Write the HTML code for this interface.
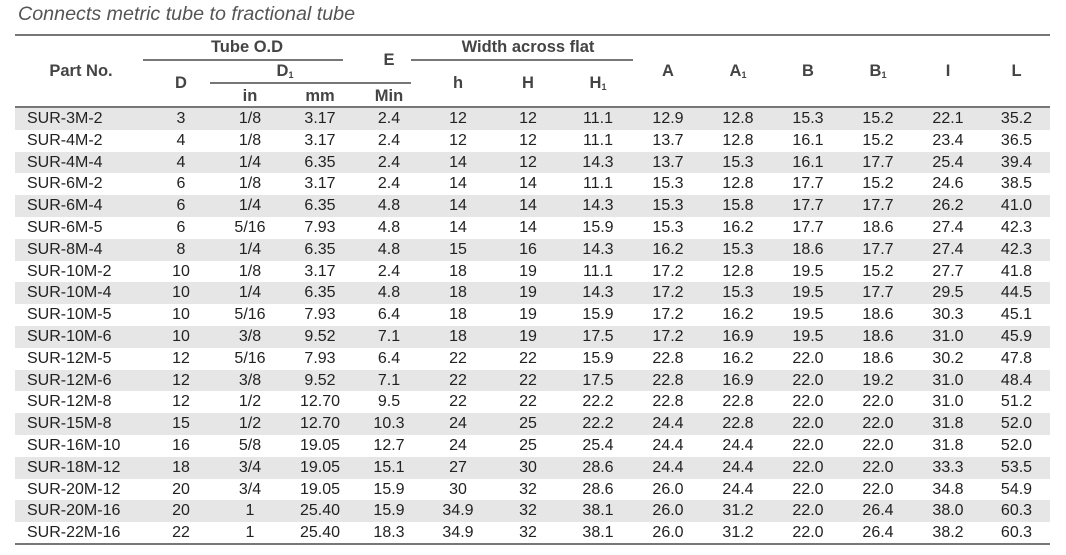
<!DOCTYPE html>
<html><head><meta charset="utf-8"><style>
body{margin:0;width:1066px;height:555px;background:#fff;font-family:"Liberation Sans",Arial,sans-serif;position:relative;overflow:hidden}
.a{position:absolute}
.t{left:18px;top:3px;font-style:italic;font-size:19.7px;color:#555}
.l{background:#777;height:2px}
.h{font-weight:bold;color:#444;font-size:16.5px;text-align:center}
sub{font-size:9px;vertical-align:-2px}
table{position:absolute;left:15px;top:108px;border-collapse:collapse;width:1035px;table-layout:fixed}
td{height:21.8px;padding:0;font-size:16px;color:#222;text-align:center;line-height:21.8px}
td:first-child{text-align:left;padding-left:12px}
tr:nth-child(odd) td{background:#e6e6e6}
</style></head><body>
<div class="a t">Connects metric tube to fractional tube</div>
<div class="a l" style="left:15px;top:34px;width:1035px"></div>
<div class="a l" style="left:143px;top:59px;width:200px;height:1.5px"></div>
<div class="a l" style="left:411px;top:59px;width:222px;height:1.5px"></div>
<div class="a l" style="left:210px;top:82px;width:201px;height:1.5px"></div>
<div class="a l" style="left:15px;top:106px;width:1035px"></div>
<div class="a h" style="left:15px;width:132px;top:62px">Part No.</div>
<div class="a h" style="left:147px;width:200px;top:38px">Tube O.D</div>
<div class="a h" style="left:355px;width:68px;top:51px">E</div>
<div class="a h" style="left:423px;width:210px;top:38px">Width across flat</div>
<div class="a h" style="left:147px;width:68px;top:74px">D</div>
<div class="a h" style="left:215px;width:140px;top:62px">D<sub>1</sub></div>
<div class="a h" style="left:215px;width:70px;top:87px">in</div>
<div class="a h" style="left:285px;width:70px;top:87px">mm</div>
<div class="a h" style="left:355px;width:68px;top:87px">Min</div>
<div class="a h" style="left:423px;width:70px;top:74px">h</div>
<div class="a h" style="left:493px;width:70px;top:74px">H</div>
<div class="a h" style="left:563px;width:70px;top:74px">H<sub>1</sub></div>
<div class="a h" style="left:633px;width:70px;top:62px">A</div>
<div class="a h" style="left:703px;width:70px;top:62px">A<sub>1</sub></div>
<div class="a h" style="left:773px;width:70px;top:62px">B</div>
<div class="a h" style="left:843px;width:70px;top:62px">B<sub>1</sub></div>
<div class="a h" style="left:913px;width:70px;top:62px">I</div>
<div class="a h" style="left:983px;width:67px;top:62px">L</div>
<table>
<colgroup><col style="width:132px"><col style="width:68px"><col style="width:70px"><col style="width:70px"><col style="width:68px"><col style="width:70px"><col style="width:70px"><col style="width:70px"><col style="width:70px"><col style="width:70px"><col style="width:70px"><col style="width:70px"><col style="width:70px"><col style="width:67px"></colgroup>
<tr><td>SUR-3M-2</td><td>3</td><td>1/8</td><td>3.17</td><td>2.4</td><td>12</td><td>12</td><td>11.1</td><td>12.9</td><td>12.8</td><td>15.3</td><td>15.2</td><td>22.1</td><td>35.2</td></tr>
<tr><td>SUR-4M-2</td><td>4</td><td>1/8</td><td>3.17</td><td>2.4</td><td>12</td><td>12</td><td>11.1</td><td>13.7</td><td>12.8</td><td>16.1</td><td>15.2</td><td>23.4</td><td>36.5</td></tr>
<tr><td>SUR-4M-4</td><td>4</td><td>1/4</td><td>6.35</td><td>2.4</td><td>14</td><td>12</td><td>14.3</td><td>13.7</td><td>15.3</td><td>16.1</td><td>17.7</td><td>25.4</td><td>39.4</td></tr>
<tr><td>SUR-6M-2</td><td>6</td><td>1/8</td><td>3.17</td><td>2.4</td><td>14</td><td>14</td><td>11.1</td><td>15.3</td><td>12.8</td><td>17.7</td><td>15.2</td><td>24.6</td><td>38.5</td></tr>
<tr><td>SUR-6M-4</td><td>6</td><td>1/4</td><td>6.35</td><td>4.8</td><td>14</td><td>14</td><td>14.3</td><td>15.3</td><td>15.8</td><td>17.7</td><td>17.7</td><td>26.2</td><td>41.0</td></tr>
<tr><td>SUR-6M-5</td><td>6</td><td>5/16</td><td>7.93</td><td>4.8</td><td>14</td><td>14</td><td>15.9</td><td>15.3</td><td>16.2</td><td>17.7</td><td>18.6</td><td>27.4</td><td>42.3</td></tr>
<tr><td>SUR-8M-4</td><td>8</td><td>1/4</td><td>6.35</td><td>4.8</td><td>15</td><td>16</td><td>14.3</td><td>16.2</td><td>15.3</td><td>18.6</td><td>17.7</td><td>27.4</td><td>42.3</td></tr>
<tr><td>SUR-10M-2</td><td>10</td><td>1/8</td><td>3.17</td><td>2.4</td><td>18</td><td>19</td><td>11.1</td><td>17.2</td><td>12.8</td><td>19.5</td><td>15.2</td><td>27.7</td><td>41.8</td></tr>
<tr><td>SUR-10M-4</td><td>10</td><td>1/4</td><td>6.35</td><td>4.8</td><td>18</td><td>19</td><td>14.3</td><td>17.2</td><td>15.3</td><td>19.5</td><td>17.7</td><td>29.5</td><td>44.5</td></tr>
<tr><td>SUR-10M-5</td><td>10</td><td>5/16</td><td>7.93</td><td>6.4</td><td>18</td><td>19</td><td>15.9</td><td>17.2</td><td>16.2</td><td>19.5</td><td>18.6</td><td>30.3</td><td>45.1</td></tr>
<tr><td>SUR-10M-6</td><td>10</td><td>3/8</td><td>9.52</td><td>7.1</td><td>18</td><td>19</td><td>17.5</td><td>17.2</td><td>16.9</td><td>19.5</td><td>18.6</td><td>31.0</td><td>45.9</td></tr>
<tr><td>SUR-12M-5</td><td>12</td><td>5/16</td><td>7.93</td><td>6.4</td><td>22</td><td>22</td><td>15.9</td><td>22.8</td><td>16.2</td><td>22.0</td><td>18.6</td><td>30.2</td><td>47.8</td></tr>
<tr><td>SUR-12M-6</td><td>12</td><td>3/8</td><td>9.52</td><td>7.1</td><td>22</td><td>22</td><td>17.5</td><td>22.8</td><td>16.9</td><td>22.0</td><td>19.2</td><td>31.0</td><td>48.4</td></tr>
<tr><td>SUR-12M-8</td><td>12</td><td>1/2</td><td>12.70</td><td>9.5</td><td>22</td><td>22</td><td>22.2</td><td>22.8</td><td>22.8</td><td>22.0</td><td>22.0</td><td>31.0</td><td>51.2</td></tr>
<tr><td>SUR-15M-8</td><td>15</td><td>1/2</td><td>12.70</td><td>10.3</td><td>24</td><td>25</td><td>22.2</td><td>24.4</td><td>22.8</td><td>22.0</td><td>22.0</td><td>31.8</td><td>52.0</td></tr>
<tr><td>SUR-16M-10</td><td>16</td><td>5/8</td><td>19.05</td><td>12.7</td><td>24</td><td>25</td><td>25.4</td><td>24.4</td><td>24.4</td><td>22.0</td><td>22.0</td><td>31.8</td><td>52.0</td></tr>
<tr><td>SUR-18M-12</td><td>18</td><td>3/4</td><td>19.05</td><td>15.1</td><td>27</td><td>30</td><td>28.6</td><td>24.4</td><td>24.4</td><td>22.0</td><td>22.0</td><td>33.3</td><td>53.5</td></tr>
<tr><td>SUR-20M-12</td><td>20</td><td>3/4</td><td>19.05</td><td>15.9</td><td>30</td><td>32</td><td>28.6</td><td>26.0</td><td>24.4</td><td>22.0</td><td>22.0</td><td>34.8</td><td>54.9</td></tr>
<tr><td>SUR-20M-16</td><td>20</td><td>1</td><td>25.40</td><td>15.9</td><td>34.9</td><td>32</td><td>38.1</td><td>26.0</td><td>31.2</td><td>22.0</td><td>26.4</td><td>38.0</td><td>60.3</td></tr>
<tr><td>SUR-22M-16</td><td>22</td><td>1</td><td>25.40</td><td>18.3</td><td>34.9</td><td>32</td><td>38.1</td><td>26.0</td><td>31.2</td><td>22.0</td><td>26.4</td><td>38.2</td><td>60.3</td></tr>
</table>
<div class="a l" style="left:15px;top:543px;width:1035px;height:2px;background:#777"></div>
</body></html>
